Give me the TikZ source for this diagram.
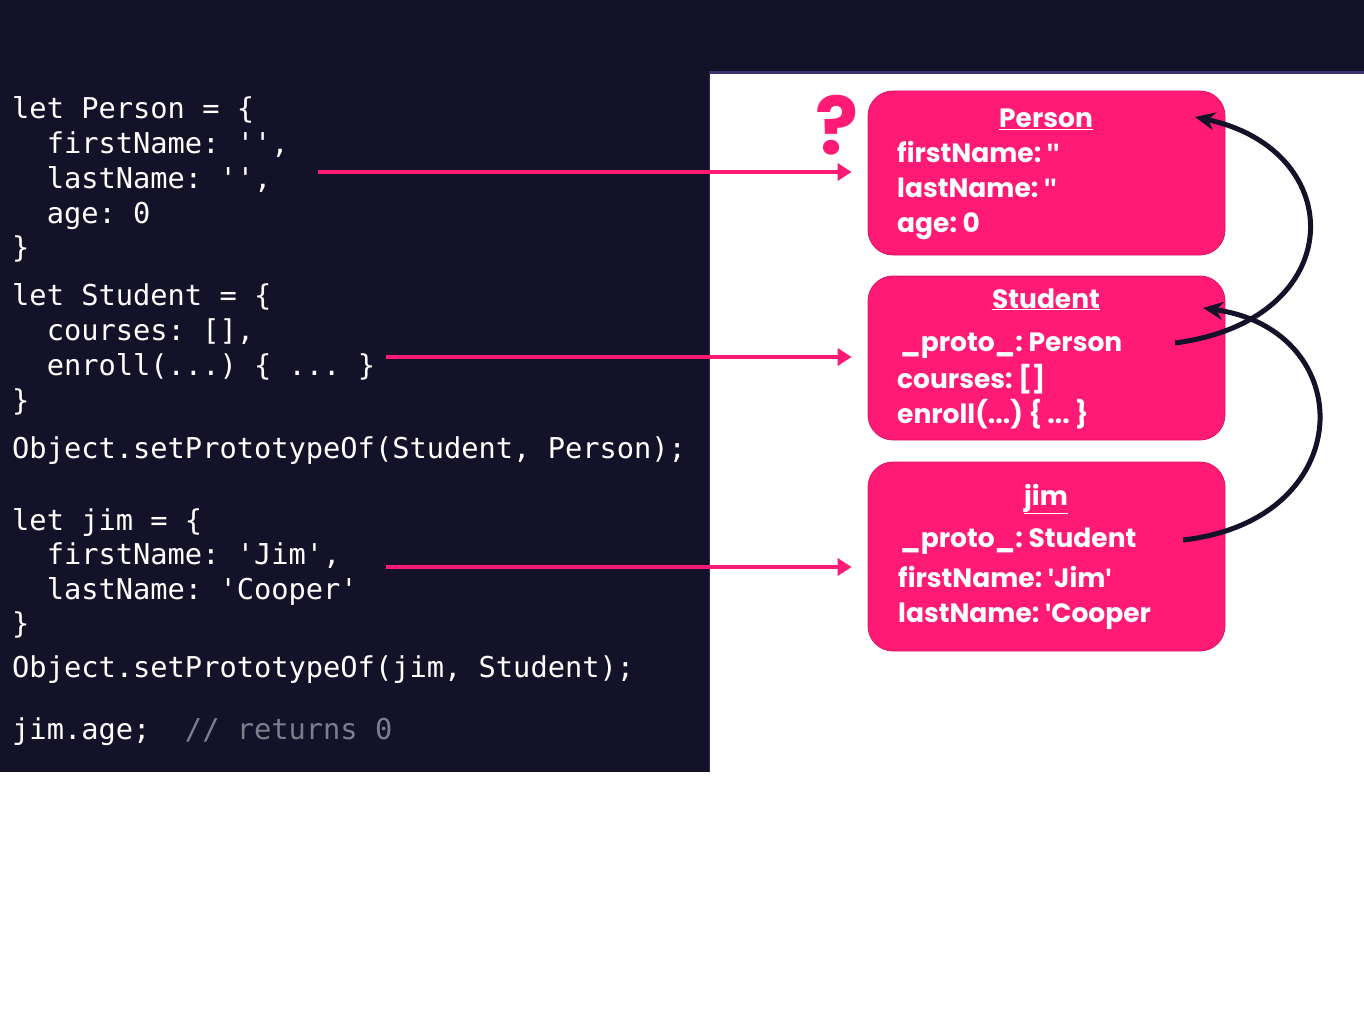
\documentclass[tikz,border=0pt]{standalone}
\usepackage{fontspec}
\setmainfont{Poppins}
\newfontfamily\quotefont{Fira Sans}
\newfontfamily\codefont{DejaVu Sans Mono}
\usetikzlibrary{arrows.meta}
\definecolor{navy}{RGB}{20,18,40}
\definecolor{hotpink}{RGB}{255,26,117}
\definecolor{pinkedge}{RGB}{225,20,100}
\definecolor{topline}{RGB}{60,52,110}
\definecolor{commentgray}{RGB}{125,125,140}
\tikzset{
  codeline/.style={anchor=base west, inner sep=0pt, text=white, font=\codefont\frenchspacing\fontsize{28.7}{30}\selectfont},
  objbox/.style={draw=pinkedge, line width=0.8pt, fill=hotpink, rounded corners=25pt, minimum width=357pt, inner sep=0pt},
  boxtitle/.style={anchor=base, inner sep=0pt, text=white, font=\bfseries\fontsize{26.5}{30}\selectfont},
  boxline/.style={anchor=base west, inner sep=0pt, text=white, font=\bfseries\frenchspacing\fontsize{26.5}{30}\selectfont},
  linkarrow/.style={draw=hotpink, line width=4.5pt, -{Triangle[length=14pt,width=17pt]}},
  protoarrow/.style={draw=navy, line width=5pt, -{Stealth[length=20pt,width=18pt]}}
}
\newcommand{\sq}{\symbol{39}}
\newcommand{\bq}{{\quotefont\bfseries\symbol{39}}}
\begin{document}
\begin{tikzpicture}[x=1pt,y=-1pt]
\useasboundingbox (0,0) rectangle (1364,1024);
\fill[white] (0,0) rectangle (1364,1024);
% dark panels
\fill[navy] (0,0) rectangle (1364,72);
\fill[navy] (0,0) rectangle (709,772);
\draw[topline, line width=3pt] (709,72.5) -- (1364,72.5);
\draw[topline!70!navy, line width=1.5pt] (709.5,72) -- (709.5,772);

% code lines
\node[codeline] (c1) at (12,119) {let Person = \{};
\node[codeline] (c2) at (12,154) {\ \ firstName: \sq\sq,};
\node[codeline] (c3) at (12,189) {\ \ lastName: \sq\sq,};
\node[codeline] (c4) at (12,224) {\ \ age: 0};
\node[codeline] (c5) at (12,258) {\}};
\node[codeline] (c6) at (12,305) {let Student = \{};
\node[codeline] (c7) at (12,340) {\ \ courses: [],};
\node[codeline] (c8) at (12,375) {\ \ enroll(...) \{ ... \}};
\node[codeline] (c9) at (12,410) {\}};
\node[codeline] (c10) at (12,458) {Object.setPrototypeOf(Student, Person);};
\node[codeline] (c11) at (12,530) {let jim = \{};
\node[codeline] (c12) at (12,564) {\ \ firstName: \sq Jim\sq,};
\node[codeline] (c13) at (12,599) {\ \ lastName: \sq Cooper\sq};
\node[codeline] (c14) at (12,633) {\}};
\node[codeline] (c15) at (12,677) {Object.setPrototypeOf(jim, Student);};
\node[codeline] (c16) at (12,739) {jim.age;\ \ \textcolor{commentgray}{// returns 0}};

% object boxes
\node[objbox, minimum height=164pt] (pbox) at (1046.5,173) {};
\node[objbox, minimum height=164pt] (sbox) at (1046.5,358) {};
\node[objbox, minimum height=189pt] (jbox) at (1046.5,556.5) {};

% box texts
\node[boxtitle] (pt) at (1046,128) {\underline{Person}};
\node[boxline] (p1) at (897,163) {firstName: \bq\bq};
\node[boxline] (p2) at (897,198) {lastName: \bq\bq};
\node[boxline] (p3) at (897,233) {age: 0};

\node[boxtitle] (st) at (1046,308) {\underline{Student}};
\node[boxline] (s1) at (900,351) {\_proto\_: Person};
\node[boxline] (s2) at (897,388) {courses: []};
\node[boxline] (s3) at (897,423) {enroll(...) \{ ... \}};

\node[boxtitle] (jt) at (1046,505) {\underline{jim}};
\node[boxline] (j1) at (900,547) {\_proto\_: Student};
\node[boxline] (j2) at (898,587) {firstName: \bq Jim\bq};
\node[boxline] (j3) at (898,622) {lastName: \bq Cooper};

% question mark
\node[text=hotpink, font=\bfseries\fontsize{80}{80}\selectfont, inner sep=0pt, anchor=base] (qm) at (837,155) {?};

% pink link arrows
\coordinate (a1) at (318,172);
\coordinate (a2) at (386,357);
\coordinate (a3) at (386,567);
\draw[linkarrow, shorten >=16pt] (a1) -- (pbox.west |- a1);
\draw[linkarrow, shorten >=16pt] (a2) -- (sbox.west |- a2);
\draw[linkarrow, shorten >=16pt] (a3) -- (jbox.west |- a3);

% prototype arrows
\coordinate (sp) at (1175,343);
\coordinate (pin) at (1195,117);
\coordinate (jp) at (1183,540);
\coordinate (sin) at (1203,308);
\draw[protoarrow] (sp) .. controls (1350,320) and (1350,150) .. (pin);
\draw[protoarrow] (jp) .. controls (1360,520) and (1360,330) .. (sin);
\end{tikzpicture}
\end{document}
